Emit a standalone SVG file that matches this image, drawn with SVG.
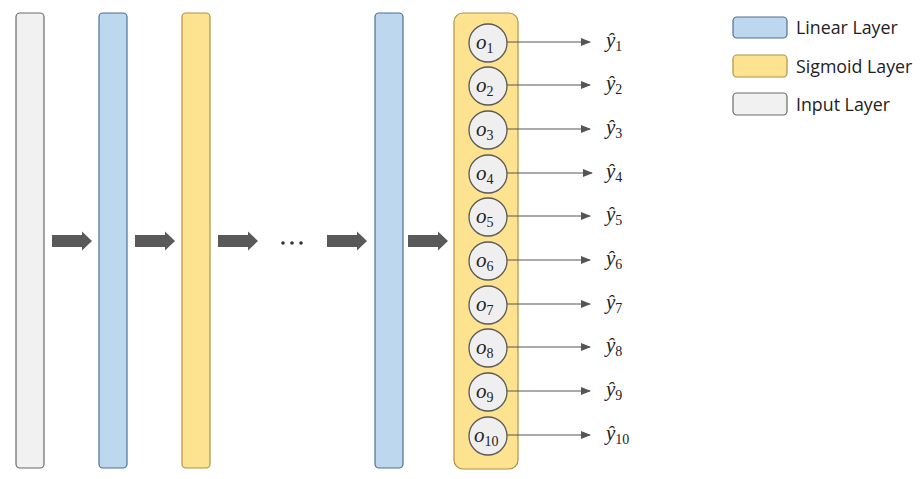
<svg xmlns="http://www.w3.org/2000/svg" width="923" height="479" viewBox="0 0 923 479">
<defs>
<style>
.inp{fill:#f1f1f1;stroke:#6a6a6a;stroke-width:1.2}
.lin{fill:#bdd7ee;stroke:#4f6f94;stroke-width:1.2}
.sig{fill:#fde28f;stroke:#b09245;stroke-width:1.2}
.cir{fill:#efefef;stroke:#595959;stroke-width:1.3}
.blk{fill:#595959}
.con{stroke:#555;stroke-width:1;fill:none;marker-end:url(#ah)}
.o{font-family:"Liberation Serif",serif;font-style:italic;font-size:21px;fill:#222}
.y{font-family:"Liberation Serif",serif;font-style:italic;font-size:21px;fill:#222}
.sub{font-style:normal;font-size:14px}
.leg{font-family:"Open Sans","Noto Sans",sans-serif;font-size:17.8px;fill:#222}
</style>
<marker id="ah" markerWidth="10" markerHeight="8" refX="9" refY="4" orient="auto" markerUnits="userSpaceOnUse">
<path d="M0,0 L10,4 L0,8 Z" fill="#555"/>
</marker>
<path id="bigarrow" d="M0,-6 L30,-6 L30,-9.5 L40,0 L30,9.5 L30,6 L0,6 Z"/>
</defs>
<rect width="923" height="479" fill="#ffffff"/>
<g id="input-layer"><rect class="inp" x="16" y="13" width="28" height="455" rx="4"/></g>
<g id="linear-layer-1"><rect class="lin" x="99" y="13" width="28" height="455" rx="4"/></g>
<g id="sigmoid-layer-1"><rect class="sig" x="182" y="13" width="28" height="455" rx="4"/></g>
<g id="linear-layer-2"><rect class="lin" x="375" y="13" width="28" height="455" rx="4"/></g>
<g id="output-layer"><rect class="sig" x="454" y="13" width="64" height="456" rx="9"/></g>
<g id="flow-arrows">
<use href="#bigarrow" class="blk" x="52" y="241"/>
<use href="#bigarrow" class="blk" x="135" y="241"/>
<use href="#bigarrow" class="blk" x="218" y="241"/>
<use href="#bigarrow" class="blk" x="327" y="241"/>
<use href="#bigarrow" class="blk" x="408" y="241"/>
</g>
<g id="ellipsis"><circle cx="283" cy="243" r="1.8" fill="#333"/><circle cx="292" cy="243" r="1.8" fill="#333"/><circle cx="301" cy="243" r="1.8" fill="#333"/></g>
<g id="connectors">
<line class="con" x1="507" y1="42" x2="590" y2="42"/>
<line class="con" x1="507" y1="85" x2="590" y2="85"/>
<line class="con" x1="507" y1="129" x2="590" y2="129"/>
<line class="con" x1="507" y1="173" x2="592" y2="173"/>
<line class="con" x1="507" y1="216" x2="590" y2="216"/>
<line class="con" x1="507" y1="260" x2="590" y2="260"/>
<line class="con" x1="507" y1="304" x2="590" y2="304"/>
<line class="con" x1="507" y1="347" x2="590" y2="347"/>
<line class="con" x1="507" y1="391" x2="590" y2="391"/>
<line class="con" x1="507" y1="435" x2="590" y2="435"/>
</g>
<g id="o1"><circle class="cir" cx="488" cy="43" r="19"/><text class="o" x="476" y="49">o<tspan class="sub" dy="4">1</tspan></text></g>
<g id="o2"><circle class="cir" cx="488" cy="86" r="19"/><text class="o" x="476" y="92">o<tspan class="sub" dy="4">2</tspan></text></g>
<g id="o3"><circle class="cir" cx="488" cy="130" r="19"/><text class="o" x="476" y="136">o<tspan class="sub" dy="4">3</tspan></text></g>
<g id="o4"><circle class="cir" cx="488" cy="174" r="19"/><text class="o" x="476" y="180">o<tspan class="sub" dy="4">4</tspan></text></g>
<g id="o5"><circle class="cir" cx="488" cy="217" r="19"/><text class="o" x="476" y="223">o<tspan class="sub" dy="4">5</tspan></text></g>
<g id="o6"><circle class="cir" cx="488" cy="261" r="19"/><text class="o" x="476" y="267">o<tspan class="sub" dy="4">6</tspan></text></g>
<g id="o7"><circle class="cir" cx="488" cy="305" r="19"/><text class="o" x="476" y="311">o<tspan class="sub" dy="4">7</tspan></text></g>
<g id="o8"><circle class="cir" cx="488" cy="348" r="19"/><text class="o" x="476" y="354">o<tspan class="sub" dy="4">8</tspan></text></g>
<g id="o9"><circle class="cir" cx="488" cy="392" r="19"/><text class="o" x="476" y="398">o<tspan class="sub" dy="4">9</tspan></text></g>
<g id="o10"><circle class="cir" cx="488" cy="436" r="19"/><text class="o" x="474" y="442">o<tspan class="sub" dy="4">10</tspan></text></g>
<g id="y-labels">
<text class="y" x="606" y="47">ŷ<tspan class="sub" dy="4">1</tspan></text>
<text class="y" x="606" y="90">ŷ<tspan class="sub" dy="4">2</tspan></text>
<text class="y" x="606" y="134">ŷ<tspan class="sub" dy="4">3</tspan></text>
<text class="y" x="606" y="178">ŷ<tspan class="sub" dy="4">4</tspan></text>
<text class="y" x="606" y="221">ŷ<tspan class="sub" dy="4">5</tspan></text>
<text class="y" x="606" y="265">ŷ<tspan class="sub" dy="4">6</tspan></text>
<text class="y" x="606" y="309">ŷ<tspan class="sub" dy="4">7</tspan></text>
<text class="y" x="606" y="352">ŷ<tspan class="sub" dy="4">8</tspan></text>
<text class="y" x="606" y="396">ŷ<tspan class="sub" dy="4">9</tspan></text>
<text class="y" x="606" y="440">ŷ<tspan class="sub" dy="4">10</tspan></text>
</g>
<g id="legend">
<rect class="lin" x="733" y="17" width="54" height="21" rx="4"/><text class="leg" x="796" y="34">Linear Layer</text>
<rect class="sig" x="733" y="55" width="54" height="22" rx="4"/><text class="leg" x="796" y="73">Sigmoid Layer</text>
<rect class="inp" x="733" y="93" width="54" height="22" rx="4"/><text class="leg" x="796" y="111">Input Layer</text>
</g>
</svg>
